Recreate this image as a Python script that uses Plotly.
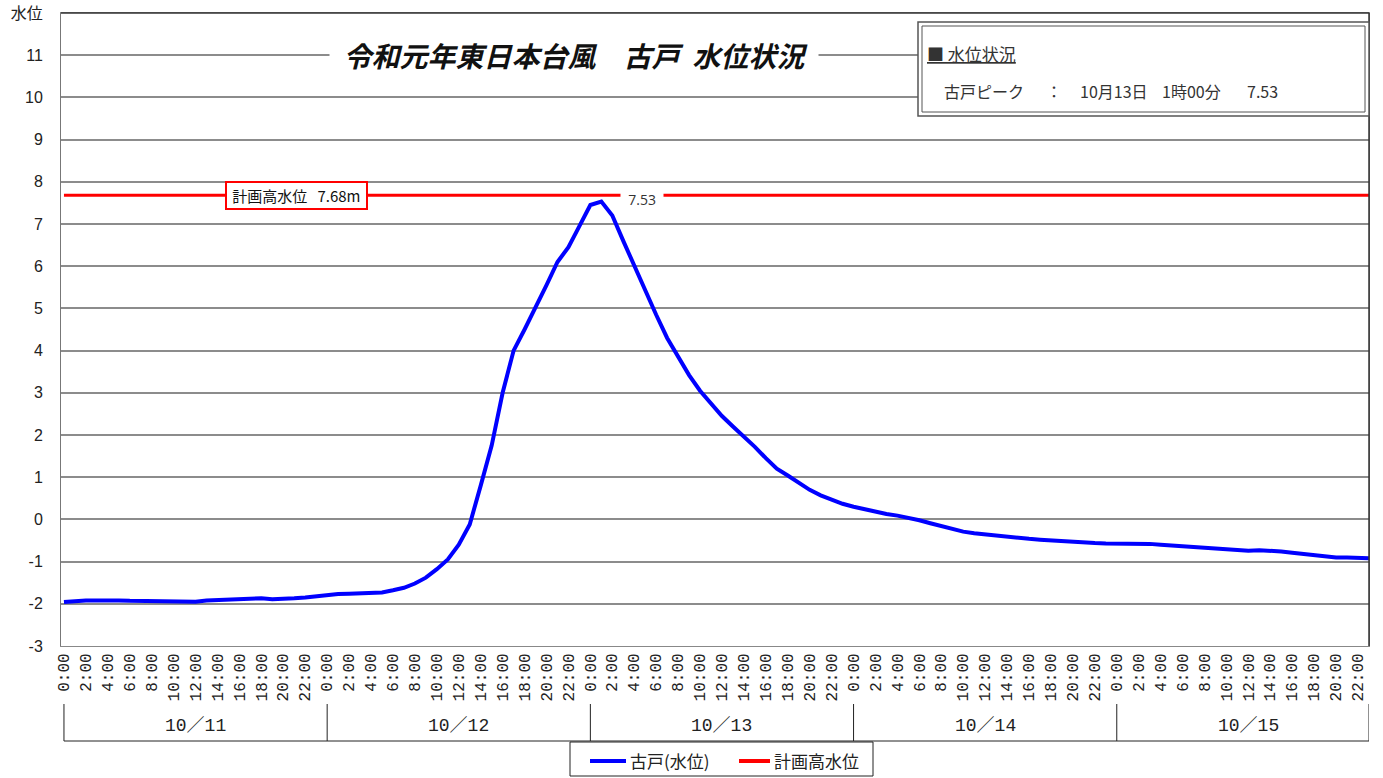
import plotly.graph_objects as go

# ---------------- data ----------------
days = ["10／11", "10／12", "10／13", "10／14", "10／15"]
hour_labels = ["0:00", "2:00", "4:00", "6:00", "8:00", "10:00", "12:00",
               "14:00", "16:00", "18:00", "20:00", "22:00"]

level_1011 = [-1.96, -1.93, -1.92, -1.92, -1.91, -1.92, -1.93, -1.93, -1.93, -1.95, -1.93, -1.95,
              -1.95, -1.92, -1.91, -1.90, -1.88, -1.87, -1.87, -1.89, -1.89, -1.87, -1.85, -1.82]
level_1012 = [-1.79, -1.77, -1.76, -1.75, -1.74, -1.73, -1.68, -1.62, -1.52, -1.38, -1.18, -0.95,
              -0.60, -0.12, 0.80, 1.75, 3.00, 4.00, 4.50, 5.00, 5.55, 6.10, 6.45, 6.95]
level_1013 = [7.45, 7.53, 7.20, 6.60, 6.00, 5.40, 4.85, 4.30, 3.85, 3.42, 3.05, 2.75,
              2.45, 2.20, 1.97, 1.72, 1.45, 1.20, 1.04, 0.86, 0.70, 0.57, 0.46, 0.37]
level_1014 = [0.30, 0.24, 0.18, 0.13, 0.09, 0.04, -0.02, -0.09, -0.16, -0.23, -0.29, -0.33,
              -0.36, -0.38, -0.41, -0.44, -0.46, -0.48, -0.50, -0.52, -0.53, -0.54, -0.56, -0.57]
level_1015 = [-0.57, -0.57, -0.57, -0.58, -0.60, -0.62, -0.64, -0.66, -0.68, -0.70, -0.72, -0.73,
              -0.74, -0.73, -0.74, -0.76, -0.79, -0.82, -0.85, -0.88, -0.90, -0.90, -0.90, -0.92]

plan_high_water = 7.68
peak_value = 7.53
series_names = ["古戸(水位)", "計画高水位"]
series_colors = ["#0000ff", "#ff0000"]
y_ticks = list(range(-3, 13))
y_ticktext = [str(v) for v in range(-3, 12)] + ["水位"]

water_level = level_1011 + level_1012 + level_1013 + level_1014 + level_1015
n = len(water_level)
x_idx = list(range(n))
peak_idx = water_level.index(max(water_level))

tick_vals = [d * 24 + h for d in range(len(days)) for h in range(0, 24, 2)]
tick_text = [hour_labels[h // 2] for d in range(len(days)) for h in range(0, 24, 2)]

JP = "Noto Sans CJK JP, Noto Sans, sans-serif"
MONO_JP = "Liberation Mono, DejaVu Sans Mono, Noto Sans CJK JP, monospace"

fig = go.Figure()
fig.add_trace(go.Scatter(x=x_idx, y=water_level, mode="lines", name=series_names[0],
                         line=dict(color=series_colors[0], width=4), showlegend=False))
fig.add_trace(go.Scatter(x=x_idx, y=[plan_high_water] * n, mode="lines", name=series_names[1],
                         line=dict(color=series_colors[1], width=3), showlegend=False))

# plot area pixel helpers (paper coordinates)
L, R, T, B = 61, 1369, 13, 646
W, H = R - L, B - T
def px(xp):
    return (xp - L) / W
def py(yp):
    return (B - yp) / H

shapes = []
# top / right darker border
shapes.append(dict(type="line", xref="paper", yref="paper", x0=0, x1=1, y0=1, y1=1,
                   line=dict(color="#333", width=1.5)))
shapes.append(dict(type="line", xref="paper", yref="paper", x0=1, x1=1, y0=0, y1=1,
                   line=dict(color="#333", width=1.5)))
# day bracket lines
bounds = [0, 24, 48, 72, 96, n - 1]
for b in bounds:
    shapes.append(dict(type="line", xref="x", yref="paper", x0=b, x1=b,
                       y0=py(704), y1=py(741), line=dict(color="#222", width=1)))
shapes.append(dict(type="line", xref="x", yref="paper", x0=0, x1=n - 1,
                   y0=py(741), y1=py(741), line=dict(color="#222", width=1)))
# info box (double border)
shapes.append(dict(type="rect", xref="paper", yref="paper", x0=px(918), x1=px(1369),
                   y0=py(116), y1=py(22), line=dict(color="#555", width=1.5),
                   fillcolor="white", layer="above"))
shapes.append(dict(type="rect", xref="paper", yref="paper", x0=px(922), x1=px(1365),
                   y0=py(112), y1=py(26), line=dict(color="#555", width=1)))
# manual legend box
shapes.append(dict(type="rect", xref="paper", yref="paper", x0=px(570), x1=px(873),
                   y0=py(776), y1=py(742), line=dict(color="#222", width=1), fillcolor="white"))
legend_x = [(590, 626, 628), (739, 770, 772)]
for (a, b, t), c in zip(legend_x, series_colors):
    shapes.append(dict(type="line", xref="paper", yref="paper", x0=px(a), x1=px(b),
                       y0=py(761), y1=py(761), line=dict(color=c, width=4)))

annotations = []
for (a, b, t), name in zip(legend_x, series_names):
    annotations.append(dict(x=px(t), y=py(760), xref="paper", yref="paper",
                            xanchor="left", yanchor="middle",
                            text=name, showarrow=False,
                            font=dict(family=JP, size=17, color="#222")))
for i, d in enumerate(days):
    annotations.append(dict(x=i * 24 + 12, y=py(726), xref="x", yref="paper", text=d,
                            xanchor="center", yanchor="middle",
                            showarrow=False, font=dict(family=MONO_JP, size=18, color="#222")))
# title
annotations.append(dict(x=px(574), y=11, xref="paper", yref="y",
                        xanchor="center", yanchor="middle",
                        text="\u00a0\u00a0<b><i>令和元年東日本台風\u3000古戸\u00a0\u00a0水位状況</i></b>\u00a0\u00a0",
                        showarrow=False, bgcolor="white",
                        font=dict(family=JP, size=28, color="#111")))
# plan high water label
annotations.append(dict(x=21.2, y=plan_high_water, xref="x", yref="y",
                        xanchor="center", yanchor="middle",
                        text="\u00a0計画高水位\u00a0\u00a0\u00a07.68m\u00a0", showarrow=False,
                        bgcolor="white", bordercolor="#ff0000", borderwidth=2, borderpad=2,
                        font=dict(family=JP, size=15, color="#111")))
# peak value label
annotations.append(dict(x=peak_idx + 3.7, y=plan_high_water - 0.1, xref="x", yref="y",
                        xanchor="center", yanchor="middle",
                        text="\u00a0\u00a0%.2f\u00a0\u00a0" % peak_value, showarrow=False,
                        bgcolor="white", borderpad=0,
                        font=dict(family="Open Sans, sans-serif", size=14, color="#333")))
# info box texts
annotations.append(dict(x=px(925), y=py(54), xref="paper", yref="paper",
                        xanchor="left", yanchor="middle",
                        text="<u>■ 水位状況</u>", showarrow=False,
                        font=dict(family=JP, size=17, color="#333")))
info_parts = [(942, "古戸ピーク"), (1044, "："), (1078, "10月13日"), (1160, "1時00分"),
              (1245, "%.2f" % peak_value)]
for xp, t in info_parts:
    annotations.append(dict(x=px(xp), y=py(91), xref="paper", yref="paper",
                            xanchor="left", yanchor="middle",
                            text=t, showarrow=False,
                            font=dict(family=JP, size=16, color="#333")))

fig.update_layout(
    width=1383, height=778,
    margin=dict(l=L, r=1383 - R, t=T, b=778 - B),
    paper_bgcolor="white", plot_bgcolor="white",
    showlegend=False,
    shapes=shapes, annotations=annotations,
    xaxis=dict(range=[-0.27, n - 1], tickvals=tick_vals, ticktext=tick_text, tickangle=-90,
               showgrid=False, zeroline=False, showline=True, linecolor="#888", mirror=True,
               ticks="", automargin=False,
               tickfont=dict(family="Liberation Mono, DejaVu Sans Mono, monospace",
                             size=16, color="#222")),
    yaxis=dict(range=[-3, 12], tickvals=y_ticks, ticktext=y_ticktext, showgrid=True,
               gridcolor="#8c8c8c", gridwidth=1.5, zeroline=False, showline=True,
               linecolor="#777", mirror=True, ticks="", ticklabelstandoff=14, automargin=False,
               tickfont=dict(family="Liberation Sans, Arial, " + JP, size=16, color="#222")),
)

fig.write_html("out.html", config={"displayModeBar": False},
               post_script="document.body.style.margin='0';document.body.style.overflow='hidden';")
